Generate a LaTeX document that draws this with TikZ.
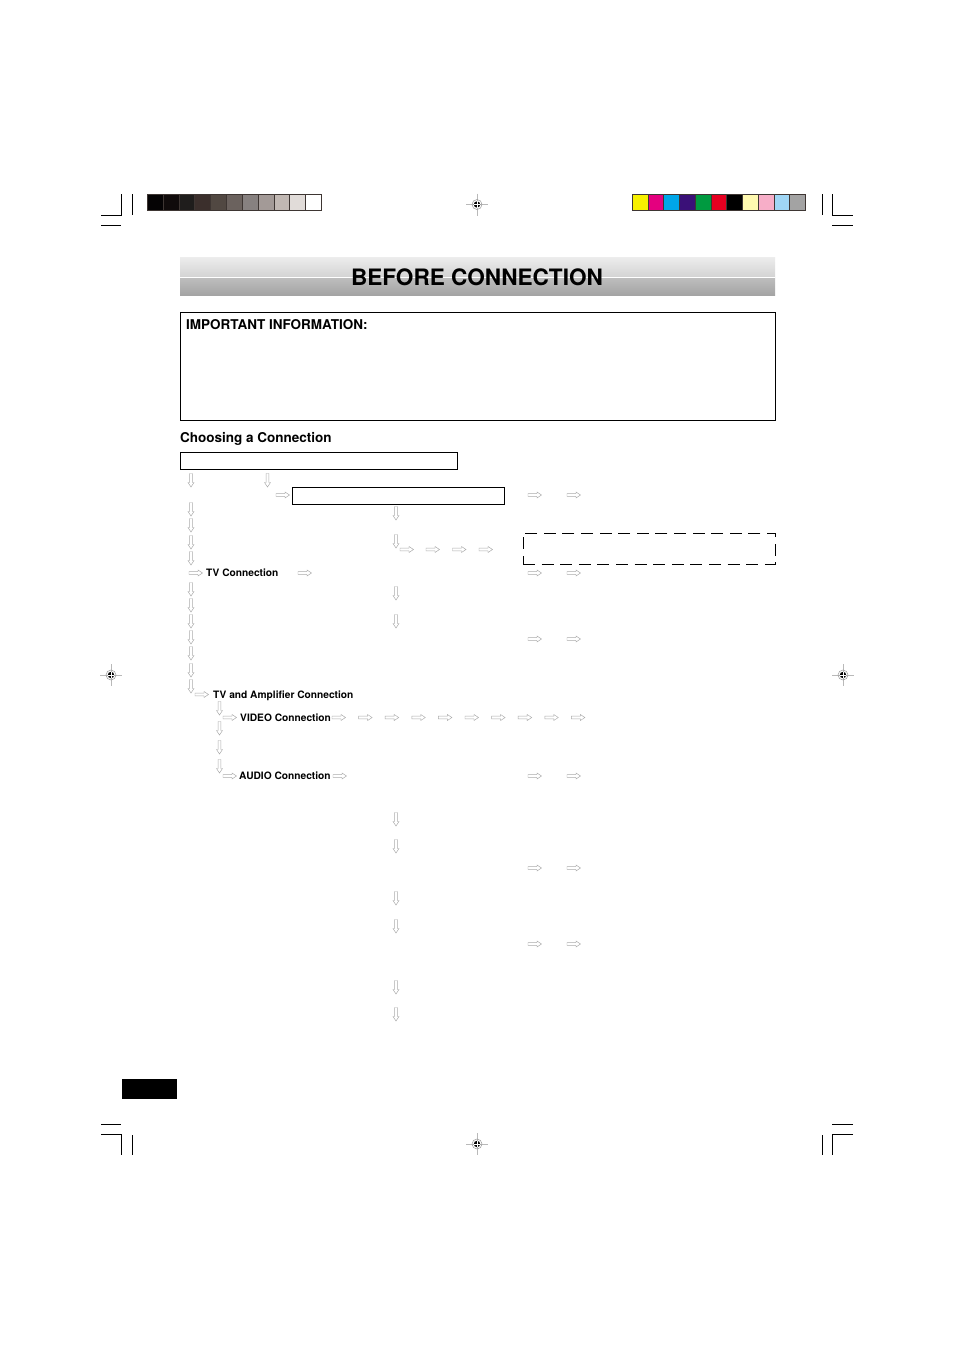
\documentclass[tikz,border=0pt]{standalone}
\usepackage{fontspec}
\setmainfont{TeX Gyre Heros}
\usetikzlibrary{positioning}

\definecolor{arrowgray}{HTML}{ABABAB}
\definecolor{barframe}{HTML}{3E3633}
\definecolor{g0}{HTML}{050304}\definecolor{g1}{HTML}{100B0B}\definecolor{g2}{HTML}{1F1D1C}
\definecolor{g3}{HTML}{3B2F2C}\definecolor{g4}{HTML}{514842}\definecolor{g5}{HTML}{6B625E}
\definecolor{g6}{HTML}{878180}\definecolor{g7}{HTML}{A39A97}\definecolor{g8}{HTML}{C1B8B3}
\definecolor{g9}{HTML}{E1DCD9}\definecolor{g10}{HTML}{FFFFFF}
\definecolor{c0}{HTML}{F7F000}\definecolor{c1}{HTML}{E4007F}\definecolor{c2}{HTML}{00A6E8}
\definecolor{c3}{HTML}{3A1078}\definecolor{c4}{HTML}{009A40}\definecolor{c5}{HTML}{E50020}
\definecolor{c6}{HTML}{000000}\definecolor{c7}{HTML}{FFF9B0}\definecolor{c8}{HTML}{F7AEC8}
\definecolor{c9}{HTML}{A0D6F5}\definecolor{c10}{HTML}{A3A3A3}
\definecolor{bartop}{HTML}{ECECEC}\definecolor{barmid}{HTML}{D3D3D3}
\definecolor{barlow}{HTML}{BDBDBD}\definecolor{barbot}{HTML}{A4A4A4}

\tikzset{
  patch/.style={draw=barframe,line width=0.9pt,anchor=north west,minimum width=15.8pt,minimum height=16pt,inner sep=0pt},
  frame/.style={draw,anchor=north west,inner sep=0pt,outer sep=0pt},
  label/.style={anchor=base west,inner sep=0pt,font=\bfseries\fontsize{10.2}{12}\selectfont},
  head/.style={anchor=base west,inner sep=0pt,font=\bfseries\fontsize{13.5}{16}\selectfont},
  rarr/.pic={\draw[arrowgray,line width=0.45pt] (0,-1.4) -- (9,-1.4) -- (9,-3) -- (13.5,0) -- (9,3) -- (9,1.4) -- (0,1.4) -- cycle;},
  darr/.pic={\draw[arrowgray,line width=0.45pt] (-1.4,0) -- (-1.4,9) -- (-3,9) -- (0,13.5) -- (3,9) -- (1.4,9) -- (1.4,0) -- cycle;},
  regmark/.pic={
    \draw[gray!55,line width=0.6pt] (-11,0) -- (11,0) (0,-11) -- (0,11);
    \draw[gray!80,line width=0.5pt] (0,0) circle (5pt);
    \fill[black] (0,0) circle (3.2pt);
    \draw[white,line width=0.6pt] (-3.2,0) -- (3.2,0) (0,-3.2) -- (0,3.2);}
}

\begin{document}
\begin{tikzpicture}[x=1pt,y=-1pt]
  \useasboundingbox[fill=white] (0,0) rectangle (954,1350);

  % crop marks
  \draw[line width=0.8pt] (121,194) -- (121,215) -- (101,215) (101,225) -- (121,225) (132,194) -- (132,215);
  \draw[line width=0.8pt] (832,194) -- (832,215) -- (853,215) (832,225) -- (853,225) (822,194) -- (822,215);
  \draw[line width=0.8pt] (101,1124) -- (121,1124) (101,1134) -- (121,1134) -- (121,1155) (132,1135) -- (132,1155);
  \draw[line width=0.8pt] (853,1124) -- (832,1124) (853,1134) -- (832,1134) -- (832,1155) (822,1135) -- (822,1155);
  \fill[black] (122,1079) rectangle (177,1099);

  % registration marks
  \pic at (477,204.5) {regmark};
  \pic at (111,675) {regmark};
  \pic at (843,675) {regmark};
  \pic at (477,1144) {regmark};

  % control strips
  \foreach \c [count=\i from 0] in {g0,g1,g2,g3,g4,g5,g6,g7,g8,g9,g10}
    \node[patch,fill=\c] (gray\i) at ({147+\i*15.82},194) {};
  \foreach \c [count=\i from 0] in {c0,c1,c2,c3,c4,c5,c6,c7,c8,c9,c10}
    \node[patch,fill=\c] (col\i) at ({632+\i*15.73},194) {};

  % title bar
  \shade[top color=bartop,bottom color=barmid] (180,257.5) rectangle (775,277);
  \shade[top color=barlow,bottom color=barbot] (180,278) rectangle (775,295);
  \draw[white,line width=0.9pt] (180,277.5) -- (775,277.5);
  \node[anchor=base,inner sep=0pt,font=\bfseries\fontsize{22.6}{26}\selectfont] (title) at (477,285.5) {BEFORE CONNECTION};

  % boxes
  \node[frame,line width=0.7pt,minimum width=595pt,minimum height=108pt] (infobox) at (180,312) {};
  \node[head] (infohead) at (186,329) {IMPORTANT INFORMATION:};
  \node[head] (choosing) at (180,442) {Choosing a Connection};
  \node[frame,line width=0.9pt,minimum width=277pt,minimum height=17pt] (choicebox) at (180,452.5) {};
  \node[frame,line width=0.9pt,minimum width=212pt,minimum height=17pt] (setupbox) at (292,487.5) {};
  \node[frame,line width=0.9pt,dash pattern=on 12pt off 6.6pt,minimum width=252pt,minimum height=31pt] (notebox) at (523,533) {};

  % labels
  \node[label] (tvconn) at (206,576) {TV Connection};
  \node[label] (ampconn) at (213,698.5) {TV and Amplifier Connection};
  \node[label] (videoconn) at (240,721.5) {VIDEO Connection};
  \node[label] (audioconn) at (239,779.5) {AUDIO Connection};

  % down arrows
  \foreach \y in {473.5,502.5,518.5,535.5,551.5,582.5,598.5,614.5,630.5,646.5,663.5,679.5}
    \pic at (191,\y) {darr};
  \pic at (267.5,473.5) {darr};
  \foreach \y in {506.5,534.5,586.5,614.5,812.5,839.5,891.5,919.5,980.5,1007.5}
    \pic at (396,\y) {darr};
  \foreach \y in {701.5,721.5,740.5,759.5}
    \pic at (219.5,\y) {darr};

  % right arrows
  \foreach \x/\y in {276/495,528/495,567/495,400/549.5,426/549.5,452.5/549.5,479/549.5,
                     189/573,298/573,528/573,567/573,528/639,567/639,195/694.5,
                     223/717.5,223/776,333/776,528/776,567/776,528/868,567/868,528/944,567/944}
    \pic at (\x,\y) {rarr};
  \foreach \i in {0,...,9}
    \pic at ({332+\i*26.6},717.5) {rarr};
\end{tikzpicture}
\end{document}
